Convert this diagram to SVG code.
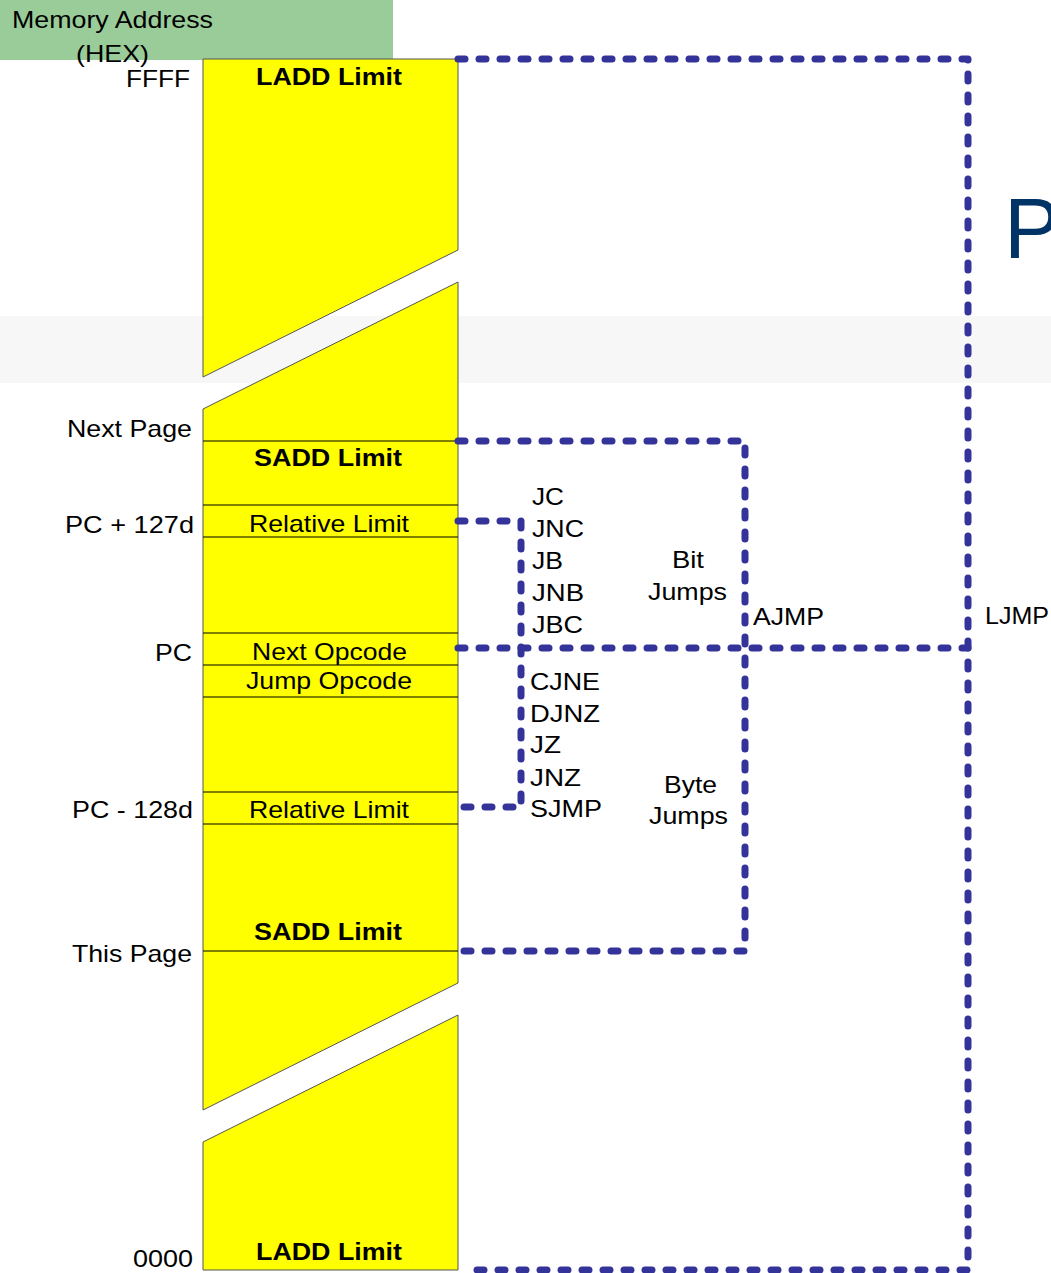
<svg xmlns="http://www.w3.org/2000/svg" width="1051" height="1273" viewBox="0 0 1051 1273">
<style>
text{font-family:"Liberation Sans",Arial,sans-serif;font-size:24px;fill:#000}
.b{font-weight:bold}
.seg{fill:#ffff00;stroke:#555;stroke-width:1}
.div{stroke:#000;stroke-width:1}
.dash{fill:none;stroke:#333399;stroke-width:7;stroke-dasharray:7 14;stroke-linecap:round;stroke-linejoin:round}
</style>
<rect x="0" y="0" width="1051" height="1273" fill="#ffffff"/>
<rect x="0" y="316" width="1051" height="67" fill="#f7f7f7"/>
<text x="1004" y="258" style="font-size:85px;fill:#003366">P</text>
<g id="header">
<rect x="0" y="0" width="393" height="60" fill="#99cc99"/>
<text x="12" y="28" textLength="201" lengthAdjust="spacingAndGlyphs">Memory Address</text>
<text x="76" y="62" textLength="73" lengthAdjust="spacingAndGlyphs">(HEX)</text>
</g>
<g id="memory-column">
<polygon class="seg" points="203,59 458,59 458,250 203,377"/>
<polygon class="seg" points="203,409 458,282 458,983 203,1110"/>
<polygon class="seg" points="203,1142 458,1015 458,1270 203,1270"/>
<g class="div">
<line x1="203" y1="441" x2="458" y2="441"/>
<line x1="203" y1="505" x2="458" y2="505"/>
<line x1="203" y1="537" x2="458" y2="537"/>
<line x1="203" y1="633" x2="458" y2="633"/>
<line x1="203" y1="665" x2="458" y2="665"/>
<line x1="203" y1="697" x2="458" y2="697"/>
<line x1="203" y1="792" x2="458" y2="792"/>
<line x1="203" y1="824" x2="458" y2="824"/>
<line x1="203" y1="951" x2="458" y2="951"/>
</g>
</g>
<g id="ladd-top"><text class="b" x="256" y="85" textLength="146" lengthAdjust="spacingAndGlyphs">LADD Limit</text></g>
<g id="sadd-top"><text class="b" x="254" y="466" textLength="148" lengthAdjust="spacingAndGlyphs">SADD Limit</text></g>
<g id="rel-top"><text x="249" y="532" textLength="160" lengthAdjust="spacingAndGlyphs">Relative Limit</text></g>
<g id="next-opcode"><text x="252" y="660" textLength="155" lengthAdjust="spacingAndGlyphs">Next Opcode</text></g>
<g id="jump-opcode"><text x="246" y="689" textLength="166" lengthAdjust="spacingAndGlyphs">Jump Opcode</text></g>
<g id="rel-bottom"><text x="249" y="818" textLength="160" lengthAdjust="spacingAndGlyphs">Relative Limit</text></g>
<g id="sadd-bottom"><text class="b" x="254" y="940" textLength="148" lengthAdjust="spacingAndGlyphs">SADD Limit</text></g>
<g id="ladd-bottom"><text class="b" x="256" y="1260" textLength="146" lengthAdjust="spacingAndGlyphs">LADD Limit</text></g>
<g id="addresses">
<text x="126" y="87" textLength="64" lengthAdjust="spacingAndGlyphs">FFFF</text>
<text x="67" y="437" textLength="125" lengthAdjust="spacingAndGlyphs">Next Page</text>
<text x="65" y="533" textLength="129" lengthAdjust="spacingAndGlyphs">PC + 127d</text>
<text x="155" y="661" textLength="37" lengthAdjust="spacingAndGlyphs">PC</text>
<text x="72" y="818" textLength="121" lengthAdjust="spacingAndGlyphs">PC - 128d</text>
<text x="72" y="962" textLength="120" lengthAdjust="spacingAndGlyphs">This Page</text>
<text x="133" y="1267" textLength="60" lengthAdjust="spacingAndGlyphs">0000</text>
</g>
<g id="connectors">
<path class="dash" d="M458,59 H968 V1270 H468"/>
<path class="dash" d="M458,648 H968"/>
<path class="dash" d="M458,441 H745 V951 H458"/>
<path class="dash" d="M458,521 H521 V807 H462"/>
</g>
<g id="bit-jumps">
<text x="532" y="505" textLength="32" lengthAdjust="spacingAndGlyphs">JC</text>
<text x="532" y="537" textLength="52" lengthAdjust="spacingAndGlyphs">JNC</text>
<text x="532" y="569" textLength="31" lengthAdjust="spacingAndGlyphs">JB</text>
<text x="532" y="601" textLength="52" lengthAdjust="spacingAndGlyphs">JNB</text>
<text x="532" y="633" textLength="51" lengthAdjust="spacingAndGlyphs">JBC</text>
<text x="672" y="568" textLength="32" lengthAdjust="spacingAndGlyphs">Bit</text>
<text x="648" y="600" textLength="79" lengthAdjust="spacingAndGlyphs">Jumps</text>
</g>
<g id="byte-jumps">
<text x="530" y="690" textLength="70" lengthAdjust="spacingAndGlyphs">CJNE</text>
<text x="530" y="722" textLength="70" lengthAdjust="spacingAndGlyphs">DJNZ</text>
<text x="530" y="753" textLength="31" lengthAdjust="spacingAndGlyphs">JZ</text>
<text x="530" y="786" textLength="51" lengthAdjust="spacingAndGlyphs">JNZ</text>
<text x="530" y="817" textLength="72" lengthAdjust="spacingAndGlyphs">SJMP</text>
<text x="664" y="793" textLength="53" lengthAdjust="spacingAndGlyphs">Byte</text>
<text x="649" y="824" textLength="79" lengthAdjust="spacingAndGlyphs">Jumps</text>
</g>
<g id="ajmp"><text x="753" y="625" textLength="71" lengthAdjust="spacingAndGlyphs">AJMP</text></g>
<g id="ljmp"><text x="985" y="624" textLength="64" lengthAdjust="spacingAndGlyphs">LJMP</text></g>
</svg>
